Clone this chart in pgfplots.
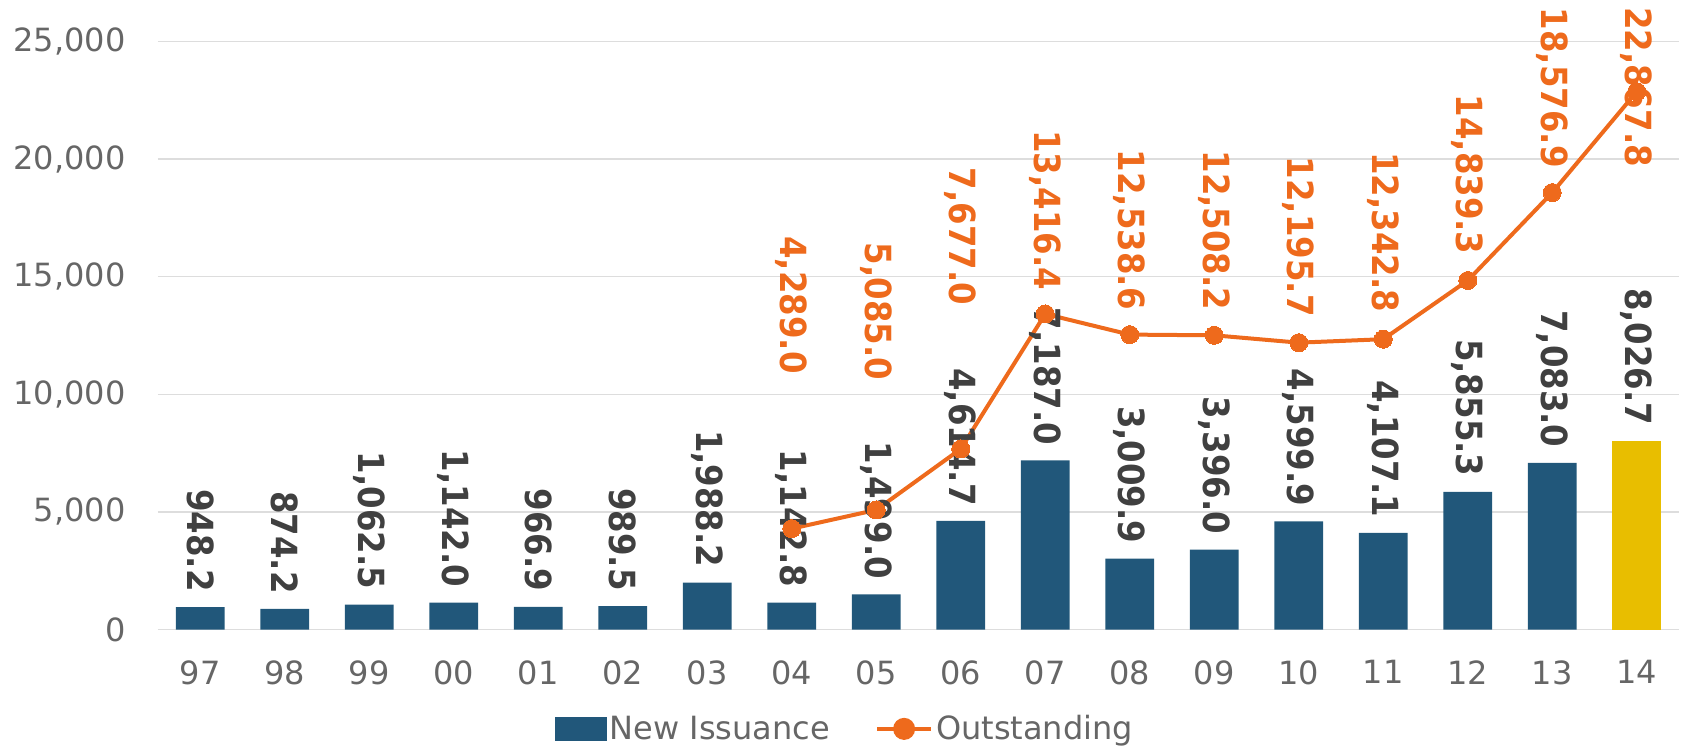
\documentclass[border=0pt]{standalone}
\usepackage{fontspec}
\setmainfont{DejaVu Sans}
\newfontfamily\lblfont{DejaVu Sans Condensed}
\usepackage{pgfplots}
\pgfplotsset{compat=1.18}
\usepackage{pgfplotstable}

\definecolor{navy}{HTML}{21577A}
\definecolor{gold}{HTML}{E8BE00}
\definecolor{orng}{HTML}{EE6A1C}
\definecolor{tickgray}{HTML}{666666}
\definecolor{lblgray}{HTML}{404040}
\definecolor{gridgray}{HTML}{DDDDDD}

% New issuance per year (97 ... 13), 14 drawn separately in gold
\pgfplotstableread{
x val
0 948.2
1 874.2
2 1062.5
3 1142.0
4 966.9
5 989.5
6 1988.2
7 1142.8
8 1499.0
9 4614.7
10 7187.0
11 3009.9
12 3396.0
13 4599.9
14 4107.1
15 5855.3
16 7083.0
}\issuance
\pgfplotstableread{
x val
17 8026.7
}\issuancelast
% Outstanding amount; off = lift of the value label above its point (pt)
\pgfplotstableread{
x val off
7 4289.0 77.5
8 5085.0 65
9 7677.0 72
10 13416.4 12
11 12538.6 12.5
12 12508.2 12.5
13 12195.7 13
14 12342.8 13.5
15 14839.3 13
16 18576.9 12.5
17 22867.8 -37.6
}\outstanding

\newcommand{\valfmt}{\pgfmathprintnumber[fixed,fixed zerofill,precision=1,1000 sep={,},assume math mode=true]{\pgfplotspointmeta}}

\begin{document}
\begin{tikzpicture}
\begin{axis}[
  scale only axis,
  width=760.5pt, height=294pt,
  xmin=-0.5, xmax=17.5,
  ymin=0, ymax=25000,
  ytick={0,5000,10000,15000,20000,25000},
  xtick={0,...,17},
  xticklabels={97,98,99,00,01,02,03,04,05,06,07,08,09,10,11,12,13,14},
  scaled y ticks=false,
  /pgf/number format/1000 sep={,},
  /pgf/number format/assume math mode=true,
  axis line style={draw=none},
  major tick length=0pt,
  ymajorgrids,
  major grid style={draw=gridgray, line width=0.75pt},
  clip=false,
  yticklabel style={font=\fontsize{16}{19}\selectfont, text=tickgray, anchor=east, inner sep=0pt, xshift=-16pt},
  xticklabel style={font=\fontsize{16}{19}\selectfont, text=tickgray, anchor=north, inner sep=0pt, yshift=-15.25pt},
  legend style={at={(0.452,-0.169)}, anchor=center, draw=none, fill=none,
    font=\fontsize{16}{19}\selectfont, text=tickgray,
    /tikz/every even column/.append style={column sep=21pt},
    nodes={inner sep=1.5pt}},
  legend columns=2,
]
\addplot[ybar, bar width=24.3pt, fill=navy, draw=none,
  legend image code/.code={\fill[navy] (0pt,-6pt) rectangle (26pt,6pt);},
  point meta=y, nodes near coords={\valfmt},
  nodes near coords style={font=\fontsize{18}{21}\lblfont\bfseries, text=lblgray,
    inner sep=0pt, yshift=7.5pt, rotate=-90, anchor=east}]
  table[x=x, y=val] {\issuance};
\addlegendentry{New Issuance}
\addplot[ybar, bar width=24.3pt, fill=gold, draw=none, forget plot,
  point meta=y, nodes near coords={\valfmt},
  nodes near coords style={font=\fontsize{18}{21}\lblfont\bfseries, text=lblgray,
    inner sep=0pt, yshift=7.5pt, rotate=-90, anchor=east}]
  table[x=x, y=val] {\issuancelast};
\addplot[orng, line width=2pt, mark=*, mark size=4.5pt,
  mark options={fill=orng, draw=orng, line width=0pt},
  legend image code/.code={\draw[orng, line width=2pt] (0pt,0pt) -- (27pt,0pt);
    \fill[orng] (13.5pt,0pt) circle (4.5pt);},
  visualization depends on={\thisrow{off} \as \loff},
  point meta=y, nodes near coords={\valfmt},
  nodes near coords style={font=\fontsize{18}{21}\lblfont\bfseries, text=orng,
    inner sep=0pt, yshift=\loff pt, rotate=-90, anchor=east}]
  table[x=x, y=val] {\outstanding};
\addlegendentry{Outstanding}
\end{axis}
\path (current axis.south west) ++(-79pt,-58.25pt) rectangle ++(840.5pt,373pt);
\end{tikzpicture}
\end{document}
